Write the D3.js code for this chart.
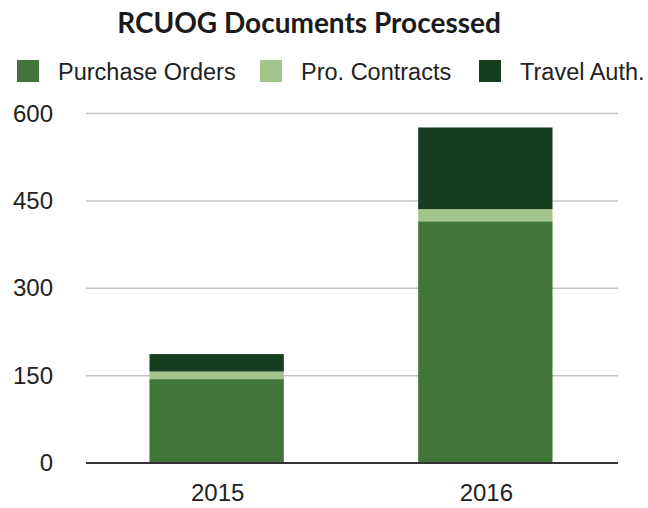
<!DOCTYPE html>
<html>
<head>
<meta charset="utf-8">
<script src="https://cdn.jsdelivr.net/npm/d3@7"></script>
<style>
  html, body { margin: 0; padding: 0; background: #fff; }
  svg { display: block; }
</style>
</head>
<body>
<div id="chart"></div>
<script>
"use strict";

// data
var years = ["2015", "2016"];
var purchaseOrders = [144, 415];
var proContracts = [13, 21];
var travelAuth = [30, 140];
var seriesNames = ["Purchase Orders", "Pro. Contracts", "Travel Auth."];
var yTicks = [0, 150, 300, 450, 600];

var colors = ["#41753a", "#a3c58b", "#163d1d"];

var W = 648, H = 508;
var margin = { top: 113.5, right: 30, bottom: 45, left: 86 };
var width = W - margin.left - margin.right;
var height = H - margin.top - margin.bottom;

var svg = d3.select("#chart")
    .append("svg")
    .attr("width", W)
    .attr("height", H);

// title
svg.append("text")
    .attr("x", 309)
    .attr("y", 33)
    .attr("text-anchor", "middle")
    .style("font-family", "Lato, 'Open Sans', sans-serif")
    .style("font-weight", "bold")
    .style("font-size", "28px")
    .style("fill", "#1a1a1a")
    .text("RCUOG Documents Processed");

// legend
var legendX = [17, 260, 479];
var legend = svg.selectAll(".legend")
    .data(seriesNames)
    .join("g")
    .attr("class", "legend")
    .attr("transform", (d, i) => `translate(${legendX[i]},60)`);

legend.append("rect")
    .attr("width", 22)
    .attr("height", 22)
    .attr("fill", (d, i) => colors[i]);

legend.append("text")
    .attr("x", 41)
    .attr("y", 12)
    .attr("dy", "0.35em")
    .style("font-family", "'Liberation Sans', Arial, sans-serif")
    .style("font-size", "23.5px")
    .style("fill", "#222")
    .text(d => d);

var g = svg.append("g")
    .attr("transform", `translate(${margin.left},${margin.top})`);

// scales
var x = d3.scaleBand()
    .domain(years)
    .range([0, width])
    .paddingInner(0.5)
    .paddingOuter(0.24);

var y = d3.scaleLinear()
    .domain([0, 600])
    .range([height, 0]);

// gridlines
g.append("g")
    .selectAll("line")
    .data(yTicks.filter(d => d > 0))
    .join("line")
    .attr("x1", 0)
    .attr("x2", width)
    .attr("y1", d => y(d))
    .attr("y2", d => y(d))
    .attr("stroke", "#c4c4c4")
    .attr("stroke-width", 1.5);

// y axis labels
var yAxis = g.append("g")
    .call(d3.axisLeft(y).tickValues(yTicks).tickSize(0).tickPadding(33));
yAxis.select(".domain").remove();
yAxis.selectAll("text")
    .style("font-family", "'Liberation Sans', Arial, sans-serif")
    .style("font-size", "24px")
    .style("fill", "#222");

// stacked bars
var table = years.map((yr, i) => ({
    year: yr,
    "Purchase Orders": purchaseOrders[i],
    "Pro. Contracts": proContracts[i],
    "Travel Auth.": travelAuth[i]
}));

var stacked = d3.stack().keys(seriesNames)(table);

g.selectAll(".series")
    .data(stacked)
    .join("g")
    .attr("class", "series")
    .attr("fill", (d, i) => colors[i])
    .selectAll("rect")
    .data(d => d)
    .join("rect")
    .attr("x", d => x(d.data.year) - 1)
    .attr("width", x.bandwidth())
    .attr("y", d => y(d[1]))
    .attr("height", d => y(d[0]) - y(d[1]));

// baseline
g.append("line")
    .attr("x1", 0)
    .attr("x2", width)
    .attr("y1", y(0))
    .attr("y2", y(0))
    .attr("stroke", "#333")
    .attr("stroke-width", 2);

// x axis labels
var xAxis = g.append("g")
    .attr("transform", `translate(0,${height})`)
    .call(d3.axisBottom(x).tickSize(0).tickPadding(21));
xAxis.select(".domain").remove();
xAxis.selectAll("text")
    .style("font-family", "'Liberation Sans', Arial, sans-serif")
    .style("font-size", "24px")
    .style("fill", "#222");
</script>
</body>
</html>
